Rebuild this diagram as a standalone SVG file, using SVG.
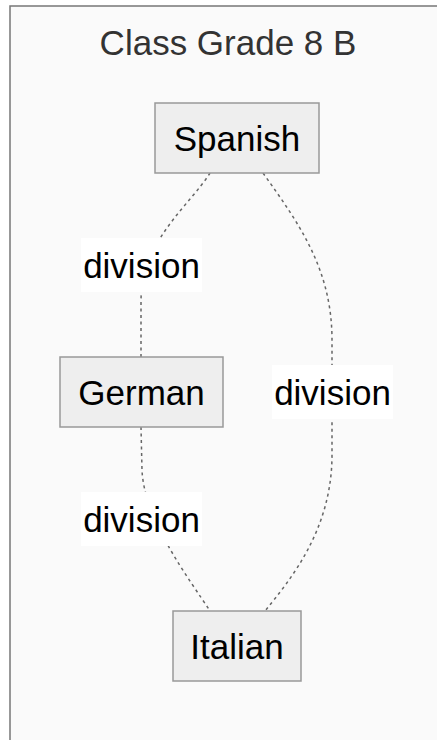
<svg xmlns="http://www.w3.org/2000/svg" width="437" height="740" viewBox="0 0 437 740">
  <style>
    text { font-family: "Liberation Sans", Arial, Helvetica, sans-serif; font-size: 35px; text-anchor: middle; fill: #000; }
    .title { fill: #333; }
    .node rect { fill: #eeeeee; stroke: #999999; stroke-width: 1.5; }
    .edge { fill: none; stroke: #666666; stroke-width: 1.5; stroke-dasharray: 3 3.5; }
    .lbl rect { fill: #ffffff; stroke: none; }
  </style>
  <rect width="437" height="740" fill="#ffffff"/>
  <!-- cluster frame -->
  <g id="cluster">
    <rect x="10" y="6" width="440" height="760" fill="#fafafa" stroke="#777777" stroke-width="1.5"/>
    <text class="title" x="228" y="55">Class Grade 8 B</text>
  </g>
  <!-- connectors -->
  <g id="edges">
    <path class="edge" d="M210,173 C190,205 142,240 141,300 L141,357"/>
    <path class="edge" d="M141,427 L142,470 C144,520 190,580 210,611"/>
    <path class="edge" d="M263,173 C300,225 332,270 332,340 L332,455 C332,530 290,580 265,611"/>
  </g>
  <g id="labels">
    <g class="lbl"><rect x="81" y="238" width="121" height="54"/><text x="141.5" y="278">division</text></g>
    <g class="lbl"><rect x="272" y="365" width="121" height="54"/><text x="332.5" y="405">division</text></g>
    <g class="lbl"><rect x="81" y="492" width="121" height="54"/><text x="141.5" y="532">division</text></g>
  </g>
  <g id="Spanish" class="node">
    <rect x="155" y="103" width="164" height="70"/>
    <text x="237" y="151">Spanish</text>
  </g>
  <g id="German" class="node">
    <rect x="60" y="357" width="163" height="70"/>
    <text x="141.5" y="405">German</text>
  </g>
  <g id="Italian" class="node">
    <rect x="173" y="611" width="128" height="70"/>
    <text x="237" y="659">Italian</text>
  </g>
</svg>
